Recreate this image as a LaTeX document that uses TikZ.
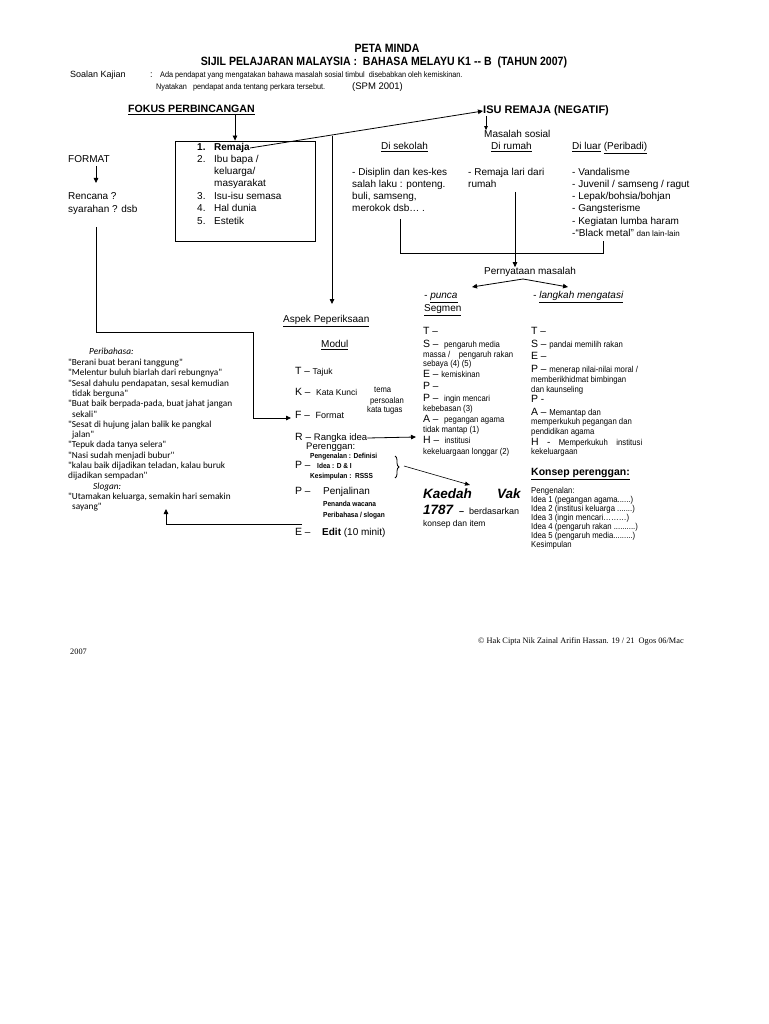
\documentclass[tikz,border=0pt]{standalone}
\usepackage{fontspec}
\setmainfont{Liberation Sans}
\newfontfamily\narf[FakeStretch=0.9]{Liberation Sans}
\newfontfamily\hdrf[FakeStretch=0.88]{Liberation Sans}
\newfontfamily\calf{Carlito}
\newfontfamily\serf{Liberation Serif}
\usetikzlibrary{arrows.meta,decorations.pathreplacing}
\newcommand\fs[1]{\fontsize{#1}{#1}\selectfont}
\newcommand\BL[1]{{\fontsize{10.5}{12}\selectfont #1}}
\newcommand\SM[1]{{\narf\fontsize{8.6}{9}\selectfont #1}}
\begin{document}
\begin{tikzpicture}[x=1pt,y=-1pt,
  t/.style={anchor=west,inner sep=0pt,font=\fs{10},text height=7.2pt,text depth=2.1pt},
  tb/.style={t,font=\bfseries\fs{10}},
  cal/.style={anchor=west,inner sep=0pt,font=\calf\fs{9.3},text height=6.6pt,text depth=2.1pt},
  sm/.style={anchor=west,inner sep=0pt,font=\narf\fs{8.6},text height=6.2pt,text depth=1.8pt},
  smb/.style={anchor=west,inner sep=0pt,font=\narf\bfseries\fs{7.3},text height=5pt,text depth=1.5pt},
  big/.style={anchor=west,inner sep=0pt,font=\bfseries\itshape\fs{13.5},text height=9.7pt,text depth=2.8pt},
  arr/.style={line width=0.8pt,-{Triangle[length=5pt,width=4.5pt]}},
  ln/.style={line width=0.8pt}]
\useasboundingbox[fill=white] (0,0) rectangle (768,1024);

% header
\node[inner sep=0pt,font=\hdrf\bfseries\fs{12}] (h1) at (387,48) {PETA MINDA};
\node[inner sep=0pt,font=\hdrf\bfseries\fs{12}] (h2) at (384,62) {SIJIL PELAJARAN MALAYSIA :\ \ BAHASA MELAYU K1 -- B\ \ (TAHUN 2007)};
\node[t,font=\fs{9}] (sk) at (70,75) {Soalan Kajian};
\node[t,font=\fs{9}] (skc) at (150,75) {:};
\node[sm,font=\narf\fs{8.1}] (sq1) at (160,75) {Ada pendapat yang mengatakan bahawa masalah sosial timbul\ \ disebabkan oleh kemiskinan.};
\node[sm,font=\narf\fs{8.1}] (sq2) at (156,87) {Nyatakan\ \ \ pendapat anda\ tentang\ perkara\ tersebut.};
\node[t,font=\fs{9.5}] (spm) at (352,87) {(SPM 2001)};

% focus
\node[tb,font=\bfseries\fs{10.6}] (fokus) at (128,110) {\underline{FOKUS PERBINCANGAN}};
\node[draw,ln,minimum width=140pt,minimum height=100pt,inner sep=0pt] (box) at (245,191) {};
\draw[arr] ([xshift=-20pt]fokus.south east) -- ([xshift=-20pt]fokus.south east |- box.north);
\node[tb] (n1) at (197,148) {1.};
\node[tb] (remaja) at (214,148) {Remaja};
\node[t] (n2) at (197,160) {2.};
\node[t] (i2a) at (214,160) {Ibu bapa /};
\node[t] (i2b) at (214,172) {keluarga/};
\node[t] (i2c) at (214,184) {masyarakat};
\node[t] (n3) at (197,197) {3.};
\node[t] (i3) at (214,197) {Isu-isu semasa};
\node[t] (n4) at (197,209) {4.};
\node[t] (i4) at (214,209) {Hal dunia};
\node[t] (n5) at (197,222) {5.};
\node[t] (i5) at (214,222) {Estetik};

% isu remaja
\node[tb,font=\bfseries\fs{11}] (isu) at (483,111) {ISU REMAJA (NEGATIF)};
\draw[arr] (remaja.east) -- (isu.west);
\node[t] (ms) at (484,135) {Masalah sosial};
\draw[line width=0.8pt,-{Triangle[length=4pt,width=3.5pt]}] ([xshift=3pt]isu.south west) -- ([xshift=3pt]isu.south west |- ms.north);
\node[t] (ds) at (381,147) {\underline{Di sekolah}};
\node[t] (dr) at (491,147) {\underline{Di rumah}};
\node[t] (dl) at (572,147) {\underline{Di luar} \underline{(Peribadi)}};

\node[t] (s1) at (352,173) {- Disiplin dan kes-kes};
\node[t] (s2) at (352,185) {salah laku : ponteng.};
\node[t] (s3) at (352,197) {buli, samseng,};
\node[t] (s4) at (352,209) {merokok dsb\dots\ .};
\node[t] (r1) at (468,173) {- Remaja lari dari};
\node[t] (r2) at (468,185) {rumah};
\node[t] (l1) at (572,173) {- Vandalisme};
\node[t] (l2) at (572,185) {- Juvenil / samseng / ragut};
\node[t] (l3) at (572,197) {- Lepak/bohsia/bohjan};
\node[t] (l4) at (572,209) {- Gangsterisme};
\node[t] (l5) at (572,222) {- Kegiatan lumba haram};
\node[t] (l6) at (572,234) {-``Black metal'' {\fs{8}dan lain-lain}};

% bracket to pernyataan
\node[t] (pern) at (484,272) {Pernyataan masalah};
\coordinate (bla) at (400,219);
\coordinate (blb) at (400,253);
\coordinate (brb) at (603,253);
\coordinate (bra) at (603,241);
\coordinate (bma) at (515,192);
\draw[ln] (bla) -- (blb) -- (brb) -- (bra);
\draw[arr] (bma) -- (bma |- pern.north);
\coordinate (pm) at (523,279);
\coordinate (pl) at (472,287);
\coordinate (pr) at (568,287);
\draw[arr] (pm) -- (pl);
\draw[arr] (pm) -- (pr);
\node[t,font=\itshape\fs{10}] (punca) at (424,296) {- \underline{punca}};
\node[t] (seg) at (424,309) {\underline{Segmen}};
\node[t,font=\itshape\fs{10}] (lk) at (533,296) {- \underline{langkah mengatasi}};

% format
\node[t] (format) at (68,160) {FORMAT};
\node[t] (ren1) at (68,197) {Rencana ?};
\node[t] (ren2) at (68,210) {syarahan ? dsb};
\coordinate (fa) at (96,166);
\coordinate (fb) at (96,183);
\draw[arr] (fa) -- (fb);

% vertical to aspek
\coordinate (vtop) at (332,136);
\coordinate (vbot) at (332,304);
\draw[arr] (vtop) -- (vbot);
\node[t] (aspek) at (283,320) {\underline{Aspek Peperiksaan}};
\node[t] (modul) at (321,345) {\underline{Modul}};

% TKFRPPE
\node[t] (mT) at (295,372) {\BL{T} -- {\fs{8.5}Tajuk}};
\node[t] (mK) at (295,393) {\BL{K} --\ \ {\fs{8.5}Kata Kunci}};
\node[sm,font=\narf\fs{8.5}] (tema) at (374,390) {tema};
\node[sm,font=\narf\fs{8.5}] (pers) at (370,401) {persoalan};
\node[sm,font=\narf\fs{8.5}] (kt) at (367,410) {kata tugas};
\node[t] (mF) at (295,416) {\BL{F} --\ \ {\fs{9}Format}};
\node[t] (mR) at (295,438) {\BL{R} -- {\fs{9.5}Rangka idea}};
\node[t,font=\fs{9.5}] (peren) at (306,447) {Perenggan:};
\node[smb] (pdef) at (310,457) {Pengenalan : Definisi};
\node[t] (mP1) at (295,466) {\BL{P} --};
\node[smb] (pidea) at (317,467) {Idea : D \& I};
\node[smb] (pkes) at (310,477) {Kesimpulan :\ \ RSSS};
\node[t] (mP2) at (295,492) {\BL{P} --};
\node[t] (pjal) at (323,492) {Penjalinan};
\node[smb] (pwac) at (323,505) {Penanda wacana};
\node[smb] (pslo) at (323,516) {Peribahasa / slogan};
\node[t] (mE) at (295,533) {\BL{E} --};
\node[t] (edit) at (322,533) {\textbf{Edit} (10 minit)};

% long connector format -> F
\coordinate (lp0) at (96,227);
\coordinate (lp1) at (96,332);
\coordinate (lp2) at (253,332);
\coordinate (lp3) at (253,418);
\draw[arr] (lp0) -- (lp1) -- (lp2) -- (lp3) -- ([xshift=-4pt]mF.west |- lp3);

% R arrow
\coordinate (rtip) at (416,437);
\draw[arr] (mR.east) -- (rtip);

% brace
\draw[ln,decorate,decoration={brace,amplitude=4pt}] (395,456) -- (395,478);
\coordinate (brtip) at (404,466);
\coordinate (ktip) at (470,485);
\draw[line width=0.6pt,-{Triangle[length=5pt,width=4pt]}] (brtip) -- (ktip);

% edit line
\coordinate (e0) at (302,524);
\coordinate (e1) at (166,524);
\coordinate (e2) at (166,509);
\draw[arr] (e0) -- (e1) -- (e2);

% peribahasa
\node[cal,font=\calf\itshape\fs{9.3}] (pb0) at (89,352) {Peribahasa:};
\node[cal] (pb1) at (68,363.3) {"Berani buat berani tanggung"};
\node[cal] (pb2) at (68,373.6) {"Melentur buluh biarlah dari rebungnya"};
\node[cal] (pb3) at (68,383.9) {"Sesal dahulu pendapatan, sesal kemudian};
\node[cal] (pb4) at (72,394.2) {tidak berguna"};
\node[cal] (pb5) at (68,404.5) {"Buat baik berpada-pada, buat jahat jangan};
\node[cal] (pb6) at (72,414.8) {sekali"};
\node[cal] (pb7) at (68,425.1) {"Sesat di hujung jalan balik ke pangkal};
\node[cal] (pb8) at (72,435.4) {jalan"};
\node[cal] (pb9) at (68,445.7) {"Tepuk dada tanya selera"};
\node[cal] (pb10) at (68,456) {"Nasi sudah menjadi bubur"};
\node[cal] (pb11) at (68,466.3) {"kalau baik dijadikan teladan, kalau buruk};
\node[cal] (pb12) at (68,476.6) {dijadikan sempadan"};
\node[cal,font=\calf\itshape\fs{9.3}] (pb13) at (93,486.9) {Slogan:};
\node[cal] (pb14) at (68,497.2) {"Utamakan keluarga, semakin hari semakin};
\node[cal] (pb15) at (72,507.5) {sayang"};

% punca column
\node[t] (aT) at (423,332) {\BL{T} --};
\node[t] (aS) at (423,345) {\BL{S} --\ \ \SM{pengaruh media}};
\node[sm] (aS2) at (423,355) {massa /\ \ \ \ pengaruh rakan};
\node[sm] (aS3) at (423,364) {sebaya (4) (5)};
\node[t] (aE) at (423,375) {\BL{E} -- \SM{kemiskinan}};
\node[t] (aP1) at (423,387) {\BL{P} --};
\node[t] (aP2) at (423,399) {\BL{P} --\ \ \SM{ingin mencari}};
\node[sm] (aP3) at (423,409) {kebebasan (3)};
\node[t] (aA) at (423,420) {\BL{A} --\ \ \SM{pegangan agama}};
\node[sm] (aA2) at (423,430) {tidak mantap (1)};
\node[t] (aH) at (423,441) {\BL{H} --\ \ \SM{institusi}};
\node[sm] (aH2) at (423,452) {kekeluargaan longgar (2)};

% langkah column
\node[t] (bT) at (531,332) {\BL{T} --};
\node[t] (bS) at (531,345) {\BL{S} -- \SM{pandai memilih rakan}};
\node[t] (bE) at (531,357) {\BL{E} --};
\node[t] (bP) at (531,370) {\BL{P} -- \SM{menerap nilai-nilai moral /}};
\node[sm] (bP2) at (531,380) {memberikhidmat bimbingan};
\node[sm] (bP3) at (531,390) {dan kaunseling};
\node[t] (bP4) at (531,400) {\BL{P} -};
\node[t] (bA) at (531,413) {\BL{A} -- \SM{Memantap dan}};
\node[sm] (bA2) at (531,422) {memperkukuh pegangan dan};
\node[sm] (bA3) at (531,432) {pendidikan agama};
\node[t] (bH) at (531,443) {\BL{H}\ \ \ -\ \ \ \SM{Memperkukuh\ \ \ \ institusi}};
\node[sm] (bH2) at (531,452) {kekeluargaan};

% konsep
\node[t,font=\bfseries\fs{10.5}] (konsep) at (531,473) {\underline{Konsep perenggan:}};
\node[sm] (k0) at (531,491) {Pengenalan:};
\node[sm] (k1) at (531,500.5) {Idea 1 (pegangan agama......)};
\node[sm] (k2) at (531,509.5) {Idea 2 (institusi keluarga .......)};
\node[sm] (k3) at (531,518.5) {Idea 3 (ingin mencari\dots\dots\dots)};
\node[sm] (k4) at (531,527.5) {Idea 4 (pengaruh rakan ..........)};
\node[sm] (k5) at (531,536.5) {Idea 5 (pengaruh media.........)};
\node[sm] (k6) at (531,545.5) {Kesimpulan};

% kaedah
\node[big] (kaedah) at (423,495) {Kaedah};
\node[big] (vak) at (497,495) {Vak};
\node[big] (k1787) at (423,511) {1787};
\node[t,font=\fs{9}] (berd) at (459,512) {\textbf{--}\ \ berdasarkan};
\node[t,font=\fs{8.5}] (kdi) at (423,524) {konsep dan item};

% footer
\node[anchor=west,inner sep=0pt,font=\serf\fs{8.3}] (ft1) at (478,641) {\textcopyright{} Hak Cipta Nik Zainal Arifin Hassan. 19 / 21\ \ Ogos 06/Mac};
\node[anchor=west,inner sep=0pt,font=\serf\fs{8.3}] (ft2) at (70,652) {2007};
\end{tikzpicture}
\end{document}
